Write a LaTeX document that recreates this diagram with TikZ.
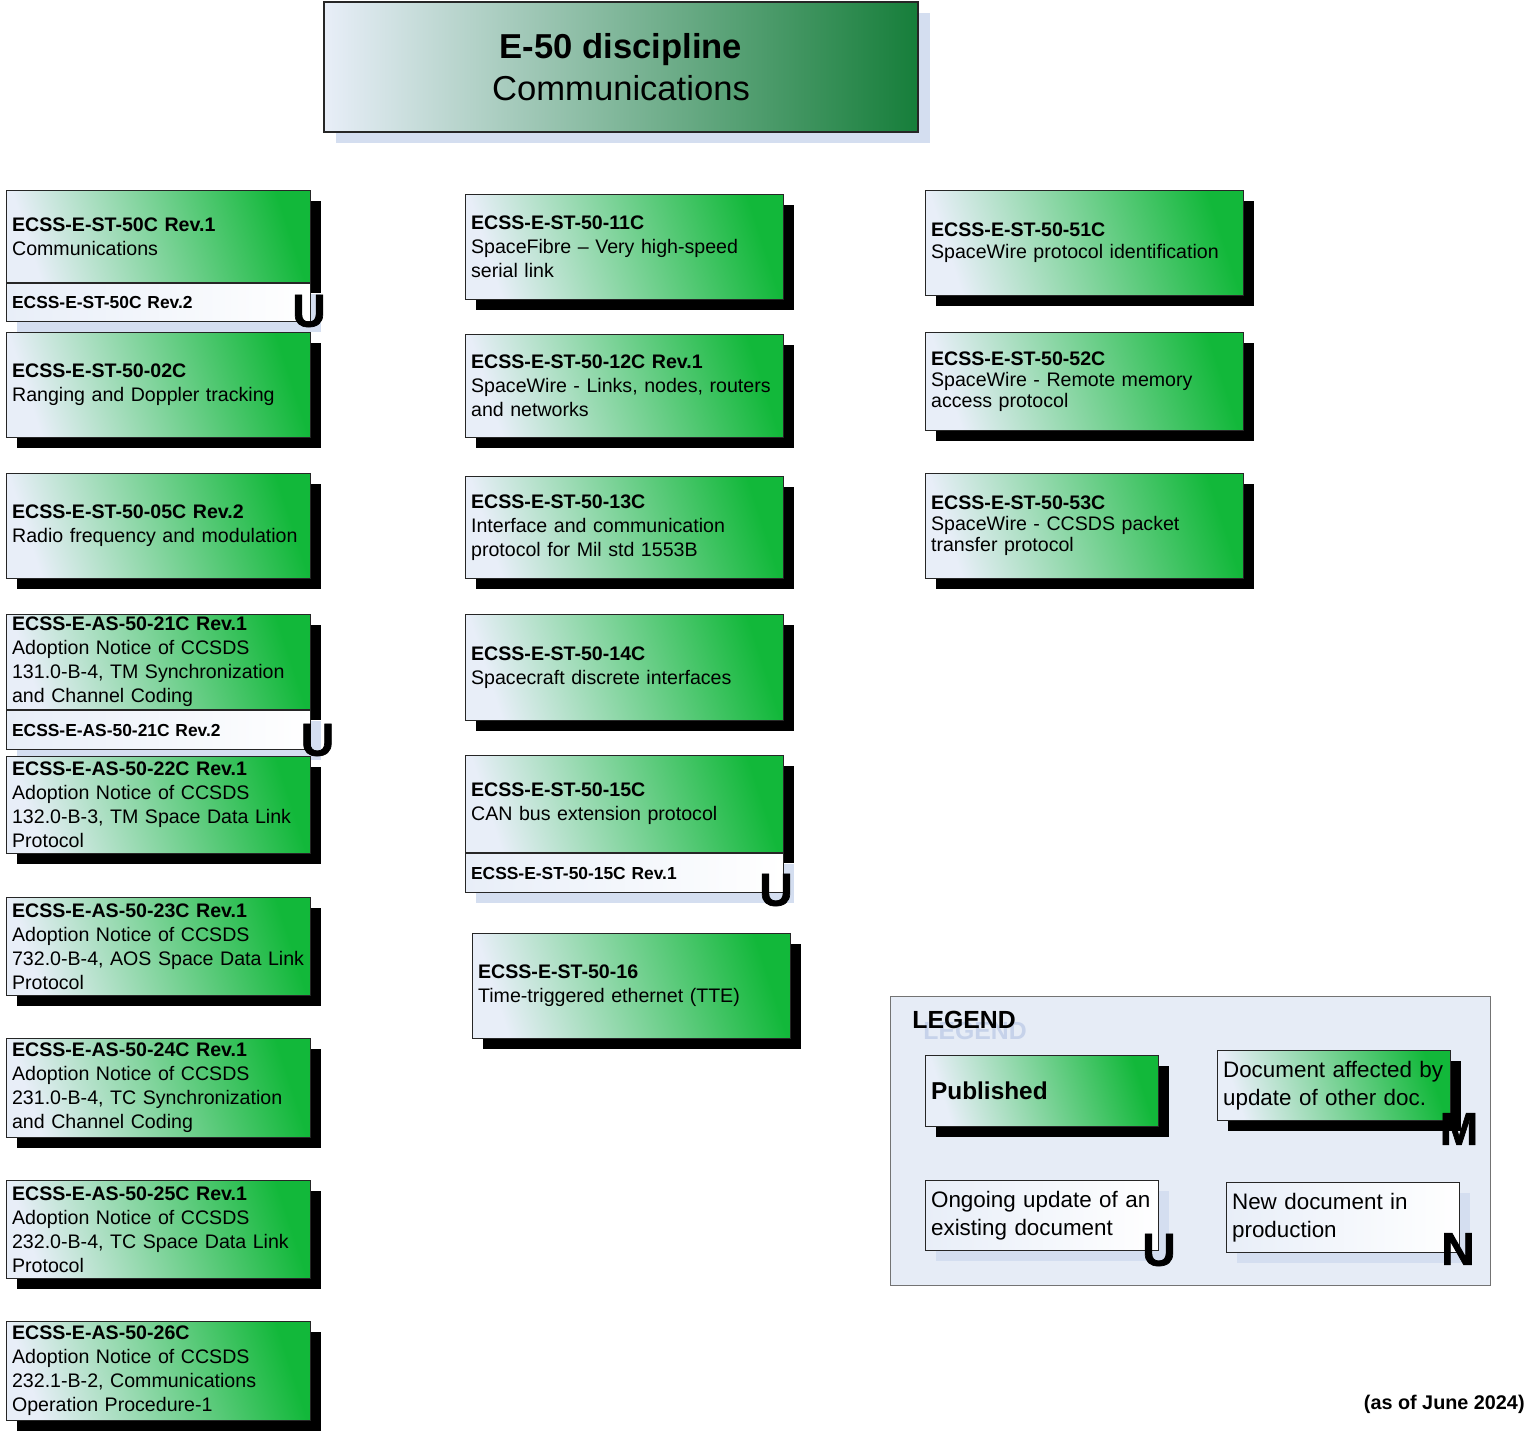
\documentclass[tikz,border=0pt]{standalone}
\usepackage{fontspec}
\setmainfont{Liberation Sans}
\newfontfamily\flagfont[FakeBold=1.5]{Liberation Sans Bold}
\usetikzlibrary{shadows}
\definecolor{pale}{RGB}{232,238,248}
\definecolor{pubgreen}{RGB}{18,184,58}
\definecolor{darkgreen}{RGB}{22,126,58}
\definecolor{shadeblue}{RGB}{212,222,240}
\definecolor{legendbg}{RGB}{230,236,246}
\definecolor{ghost}{RGB}{198,210,234}
\tikzset{%
  docbox/.style = {shape=rectangle, draw=black!85, line width=0.6pt,%
                   anchor=north west, align=left, inner xsep=2.75pt, inner ysep=0pt,%
                   text width=146.5pt, font=\fontsize{9.8}{12}\selectfont},%
  pub/.style    = {docbox, left color=pale, right color=pubgreen, shading angle=108,%
                   drop shadow={shadow xshift=5pt, shadow yshift=-5pt, fill=black, opacity=1}},%
  upd/.style    = {docbox, left color=pale, right color=white,%
                   font=\fontsize{8.7}{10}\selectfont\bfseries,%
                   drop shadow={shadow xshift=5pt, shadow yshift=-5pt, fill=shadeblue, opacity=1}},%
  wide/.style   = {text width=153.5pt},%
  flag/.style   = {inner sep=0pt, font=\fontsize{23}{23}\flagfont}%
}
\begin{document}
\begin{tikzpicture}[x=0.5pt, y=-0.5pt,
	legtext/.style = {font=\fontsize{11.2}{13.75}\selectfont},
	tight/.style = {font=\fontsize{9.8}{10.5}\selectfont}]
	\useasboundingbox (0,0) rectangle (1536,1432);
	% title
	\node (title) at (621,67) [draw=black!85, line width=0.6pt, minimum width=297pt,
		minimum height=65pt, left color=pale, right color=darkgreen, align=center,
		drop shadow={shadow xshift=6pt, shadow yshift=-5.5pt, fill=shadeblue, opacity=1},
		font=\fontsize{17.3}{21}\selectfont] {\textbf{E-50 discipline}\\Communications};
	% first column
	\node (st50c) at (6,190) [pub, minimum height=46pt]
		{\textbf{ECSS-E-ST-50C Rev.1}\\Communications};
	\node (st50c-u) at (st50c.south west) [upd, minimum height=19pt] {ECSS-E-ST-50C Rev.2};
	\node (st50c-flag) at (309,311) [flag] {U};
	\node (st5002) at (6,332) [pub, minimum height=52.5pt]
		{\textbf{ECSS-E-ST-50-02C}\\Ranging and Doppler tracking};
	\node (st5005) at (6,473) [pub, minimum height=52.5pt]
		{\textbf{ECSS-E-ST-50-05C Rev.2}\\Radio frequency and modulation};
	\node (as5021) at (6,614) [pub, minimum height=47.5pt]
		{\textbf{ECSS-E-AS-50-21C Rev.1}\\Adoption Notice of CCSDS\\131.0-B-4, TM Synchronization\\and Channel Coding};
	\node (as5021-u) at (as5021.south west) [upd, minimum height=19.5pt] {ECSS-E-AS-50-21C Rev.2};
	\node (as5021-flag) at (317.5,740) [flag] {U};
	\node (as5022) at (6,756) [pub, minimum height=48.5pt]
		{\textbf{ECSS-E-AS-50-22C Rev.1}\\Adoption Notice of CCSDS\\132.0-B-3, TM Space Data Link\\Protocol};
	\node (as5023) at (6,897) [pub, minimum height=49pt]
		{\textbf{ECSS-E-AS-50-23C Rev.1}\\Adoption Notice of CCSDS\\732.0-B-4, AOS Space Data Link\\Protocol};
	\node (as5024) at (6,1038) [pub, minimum height=49.5pt]
		{\textbf{ECSS-E-AS-50-24C Rev.1}\\Adoption Notice of CCSDS\\231.0-B-4, TC Synchronization\\and Channel Coding};
	\node (as5025) at (6,1180) [pub, minimum height=49pt]
		{\textbf{ECSS-E-AS-50-25C Rev.1}\\Adoption Notice of CCSDS\\232.0-B-4, TC Space Data Link\\Protocol};
	\node (as5026) at (6,1321) [pub, minimum height=49.5pt]
		{\textbf{ECSS-E-AS-50-26C}\\Adoption Notice of CCSDS\\232.1-B-2, Communications\\Operation Procedure-1};
	% second column
	\node (st5011) at (465,194) [pub, wide, minimum height=52.5pt]
		{\textbf{ECSS-E-ST-50-11C}\\SpaceFibre -- Very high-speed\\serial link};
	\node (st5012) at (465,334) [pub, wide, minimum height=51.5pt]
		{\textbf{ECSS-E-ST-50-12C Rev.1}\\SpaceWire - Links, nodes, routers\\and networks};
	\node (st5013) at (465,476) [pub, wide, minimum height=51pt]
		{\textbf{ECSS-E-ST-50-13C}\\Interface and  communication\\protocol for Mil std 1553B};
	\node (st5014) at (465,614) [pub, wide, minimum height=53pt]
		{\textbf{ECSS-E-ST-50-14C}\\Spacecraft discrete interfaces};
	\node (st5015) at (465,755) [pub, wide, minimum height=48.5pt]
		{\textbf{ECSS-E-ST-50-15C}\\CAN bus extension protocol};
	\node (st5015-u) at (st5015.south west) [upd, wide, minimum height=19.5pt] {ECSS-E-ST-50-15C Rev.1};
	\node (st5015-flag) at (776,890) [flag] {U};
	\node (st5016) at (472,933) [pub, wide, minimum height=52.5pt]
		{\textbf{ECSS-E-ST-50-16}\\Time-triggered ethernet (TTE)};
	% third column
	\node (st5051) at (925,190) [pub, wide, minimum height=52.5pt, font=\fontsize{9.8}{11}\selectfont]
		{\textbf{ECSS-E-ST-50-51C}\\SpaceWire protocol identification};
	\node (st5052) at (925,332) [pub, wide, minimum height=49pt, tight]
		{\textbf{ECSS-E-ST-50-52C}\\SpaceWire - Remote memory\\access protocol};
	\node (st5053) at (925,473) [pub, wide, minimum height=52.5pt, tight]
		{\textbf{ECSS-E-ST-50-53C}\\SpaceWire - CCSDS packet\\transfer protocol};
	% legend
	\node (legend) at (890,996) [anchor=north west, draw=black!55, fill=legendbg,
		minimum width=300pt, minimum height=144.5pt] {};
	\node (leg-ghost) at (923,1031) [anchor=west, inner sep=0pt, text=ghost,
		font=\fontsize{12.4}{14}\selectfont\bfseries] {LEGEND};
	\node (leg-title) at (912,1020) [anchor=west, inner sep=0pt,
		font=\fontsize{12.4}{14}\selectfont\bfseries] {LEGEND};
	\node (leg-pub) at (925,1055) [pub, text width=111pt, minimum height=35.5pt,
		font=\fontsize{12.2}{14}\selectfont\bfseries] {Published};
	\node (leg-mod) at (1217,1050) [pub, text width=111pt, minimum height=35pt, legtext]
		{Document affected by\\update of other doc.};
	\node (leg-mod-flag) at (1459,1129) [flag] {M};
	\node (leg-upd) at (925,1180) [upd, text width=111pt, minimum height=35pt, legtext]
		{Ongoing update of an\\existing document};
	\node (leg-upd-flag) at (1159,1250) [flag] {U};
	\node (leg-new) at (1226,1182) [upd, text width=111pt, minimum height=35pt, legtext]
		{New document in\\production};
	\node (leg-new-flag) at (1458,1249) [flag] {N};
	\node (date) at (1525,1404) [anchor=east, inner sep=0pt, font=\fontsize{9.9}{12}\selectfont\bfseries]
		{(as of June 2024)};
\end{tikzpicture}
\end{document}
